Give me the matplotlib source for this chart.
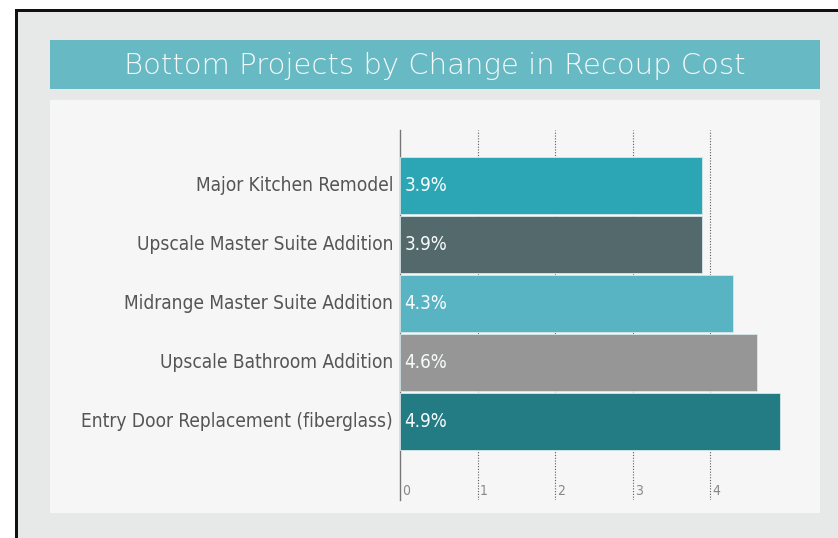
import matplotlib
matplotlib.use("Agg")
import matplotlib.pyplot as plt
from matplotlib.patches import Rectangle
import matplotlib.font_manager as fm

categories = ["Major Kitchen Remodel", "Upscale Master Suite Addition",
              "Midrange Master Suite Addition", "Upscale Bathroom Addition",
              "Entry Door Replacement (fiberglass)"]
values = [3.9, 3.9, 4.3, 4.6, 4.9]
value_labels = ["3.9%", "3.9%", "4.3%", "4.6%", "4.9%"]
colors = ["#2ca6b5", "#53696c", "#58b3c2", "#969696", "#237b84"]
xticks = [0, 1, 2, 3, 4]
title = "Bottom Projects by Change in Recoup Cost"

cond = any(f.name == "DejaVu Sans" and f.stretch == "condensed" for f in fm.fontManager.ttflist)
light = any(f.name == "DejaVu Sans" and f.weight in (200, 300, "light", "extra-light") for f in fm.fontManager.ttflist)

W, H = 838, 538
fig = plt.figure(figsize=(W / 100, H / 100), dpi=100)
fig.patch.set_facecolor("white")

def R(x0, y0, x1, y1, **kw):
    fig.patches.append(Rectangle((x0 / W, 1 - y1 / H), (x1 - x0) / W, (y1 - y0) / H,
                                 transform=fig.transFigure, **kw))

# outer background & border
R(16, 10, W, H, facecolor="#e7e9e9", edgecolor="none", zorder=0)
R(15, 10, 17.5, H, facecolor="#111111", edgecolor="none", zorder=1)
R(15, 9, W, 11.5, facecolor="#111111", edgecolor="none", zorder=1)
# title band
R(50, 40, 820, 89, facecolor="#67b9c3", edgecolor="none", zorder=1)
# panel
R(50, 100, 820, 513, facecolor="#f6f6f6", edgecolor="none", zorder=1)

fig.text(435 / W, 1 - 66 / H, title, color="#f4fafa", fontsize=21,
         ha="center", va="center", family=["DejaVu Sans"],
         fontweight=("light" if light else "normal"))

lab_stretch = "condensed" if cond else "normal"
lab_size = 13.7 if cond else 12.5

ax_l, ax_r, ax_t, ax_b = 400, 800, 130, 500
ax = fig.add_axes([ax_l / W, 1 - ax_b / H, (ax_r - ax_l) / W, (ax_b - ax_t) / H])
ax.set_zorder(5)
ax.set_facecolor("none")
unit = 77.5
ax.set_xlim(0, (ax_r - ax_l) / unit)
pitch = 59.0
top_off = (185.5 - ax_t) / pitch
bot_off = (ax_b - 421.5) / pitch
ax.set_ylim(len(values) - 1 + bot_off, -top_off)

ys = list(range(len(values)))
ax.barh(ys, values, height=0.97, color=colors, edgecolor="#d8e8ea", linewidth=0.6, zorder=3)

for y, lab in zip(ys, value_labels):
    ax.text(0.06, y, lab, color="#f8fbfb", fontsize=13.5, va="center", ha="left",
            family=["DejaVu Sans"], fontstretch=lab_stretch, zorder=4)

for t in xticks[1:]:
    ax.axvline(t, color="#5a5a5a", linestyle=(0, (1, 1.5)), linewidth=0.8, zorder=2)

for t in xticks:
    ax.text(t + 0.03, len(values) - 1 + bot_off - 0.16, str(t), color="#888888",
            fontsize=10, ha="left", va="center", family=["DejaVu Sans"],
            fontstretch=lab_stretch)

for y, c in zip(ys, categories):
    ax.text(-0.09, y, c, color="#555555", fontsize=lab_size, ha="right", va="center",
            family=["DejaVu Sans"], fontstretch=lab_stretch, clip_on=False)

for s in ["top", "right", "bottom"]:
    ax.spines[s].set_visible(False)
ax.spines["left"].set_color("#777777")
ax.spines["left"].set_linewidth(1.0)
ax.set_xticks([])
ax.set_yticks([])

fig.savefig("out.png", dpi=100)
